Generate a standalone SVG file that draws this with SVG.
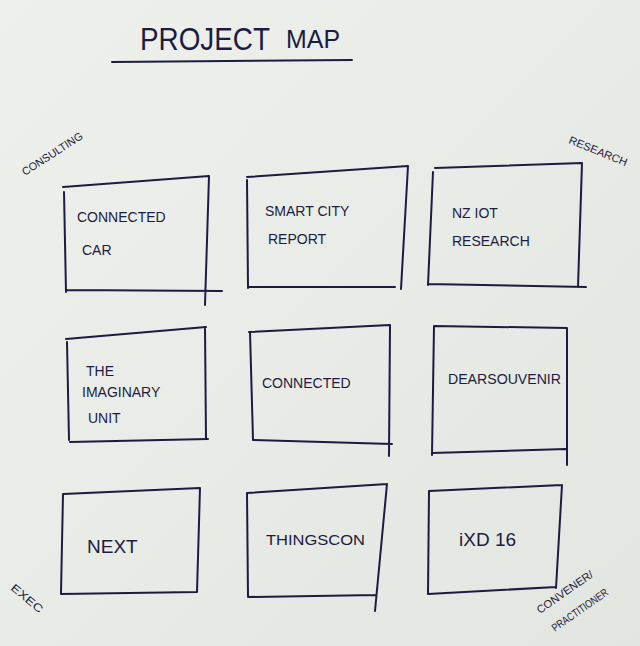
<svg xmlns="http://www.w3.org/2000/svg" width="640" height="646" viewBox="0 0 640 646">
  <defs>
    <linearGradient id="paper" x1="0" y1="0" x2="1" y2="1">
      <stop offset="0" stop-color="#eef0ec"/>
      <stop offset="0.5" stop-color="#e8ebe6"/>
      <stop offset="1" stop-color="#e2e6e0"/>
    </linearGradient>
    <style>
      .ink { fill: none; stroke: #1c1c42; stroke-width: 2; stroke-linecap: round; stroke-linejoin: round; }
      .t { font-family: "Liberation Sans", "DejaVu Sans", sans-serif; fill: #1c1c42; }
      .box { font-size: 14px; }
      .cat { font-size: 11px; }
    </style>
  </defs>
  <rect width="640" height="646" fill="url(#paper)"/>

  <g id="title">
    <text class="t" x="140" y="50" font-size="32" textLength="130" lengthAdjust="spacingAndGlyphs">PROJECT</text>
    <text class="t" x="286" y="48" font-size="26" textLength="54" lengthAdjust="spacingAndGlyphs">MAP</text>
    <path class="ink" d="M112 62 L352 60"/>
  </g>

  <g id="label-consulting">
    <text class="t cat" transform="translate(25,176) rotate(-33)" textLength="70" lengthAdjust="spacingAndGlyphs">CONSULTING</text>
  </g>
  <g id="label-research">
    <text class="t cat" transform="translate(568,143) rotate(22)" textLength="62" lengthAdjust="spacingAndGlyphs">RESEARCH</text>
  </g>
  <g id="label-exec">
    <text class="t cat" transform="translate(10,589) rotate(40)" textLength="38" lengthAdjust="spacingAndGlyphs">EXEC</text>
  </g>
  <g id="label-convener">
    <text class="t cat" transform="translate(540,614) rotate(-35)" textLength="66" lengthAdjust="spacingAndGlyphs">CONVENER/</text>
    <text class="t cat" transform="translate(555,632) rotate(-35)" textLength="66" lengthAdjust="spacingAndGlyphs">PRACTITIONER</text>
  </g>

  <g id="connected-car">
    <path class="ink" d="M63 187 L209 176 M64 192 L66 292 M209 176 L205 305 M66 290 L222 291"/>
    <text class="t box" x="77" y="222">CONNECTED</text>
    <text class="t box" x="82" y="255">CAR</text>
  </g>
  <g id="smart-city-report">
    <path class="ink" d="M247 177 L408 166 M247 180 L248 288 M408 166 L401 289 M248 287 L395 287"/>
    <text class="t box" x="265" y="216">SMART CITY</text>
    <text class="t box" x="268" y="244">REPORT</text>
  </g>
  <g id="nz-iot-research">
    <path class="ink" d="M435 168 L582 163 M433 172 L428 285 M582 163 L578 287 M428 284 L586 287"/>
    <text class="t box" x="452" y="218">NZ  IOT</text>
    <text class="t box" x="452" y="246">RESEARCH</text>
  </g>

  <g id="imaginary-unit">
    <path class="ink" d="M66 339 L206 327 M67 342 L69 440 M205 327 L206 439 M70 442 L208 439"/>
    <text class="t box" x="86" y="376">THE</text>
    <text class="t box" x="82" y="397">IMAGINARY</text>
    <text class="t box" x="88" y="423">UNIT</text>
  </g>
  <g id="connected">
    <path class="ink" d="M249 332 L390 325 M250 332 L253 440 M390 325 L389 456 M253 440 L392 444"/>
    <text class="t box" x="262" y="388">CONNECTED</text>
  </g>
  <g id="dearsouvenir">
    <path class="ink" d="M434 326 L567 328 M434 326 L432 455 M432 453 L566 449 M567 328 L567 465"/>
    <text class="t box" x="448" y="384" font-size="13" textLength="113" lengthAdjust="spacingAndGlyphs">DEARSOUVENIR</text>
  </g>

  <g id="next">
    <path class="ink" d="M63 494 L200 488 M63 494 L61 593 M61 594 L197 592 M200 488 L197 592"/>
    <text class="t" x="87" y="553" font-size="19">NEXT</text>
  </g>
  <g id="thingscon">
    <path class="ink" d="M247 493 L387 484 M247 493 L248 596 M248 597 L376 595 M387 484 L375 611"/>
    <text class="t box" x="266" y="545" textLength="99" lengthAdjust="spacingAndGlyphs">THINGSCON</text>
  </g>
  <g id="ixd16">
    <path class="ink" d="M429 491 L562 485 M429 491 L428 594 M428 594 L556 587 M562 485 L556 588"/>
    <text class="t" x="459" y="546" font-size="19">iXD 16</text>
  </g>

  <g id="connectors"></g>
</svg>
